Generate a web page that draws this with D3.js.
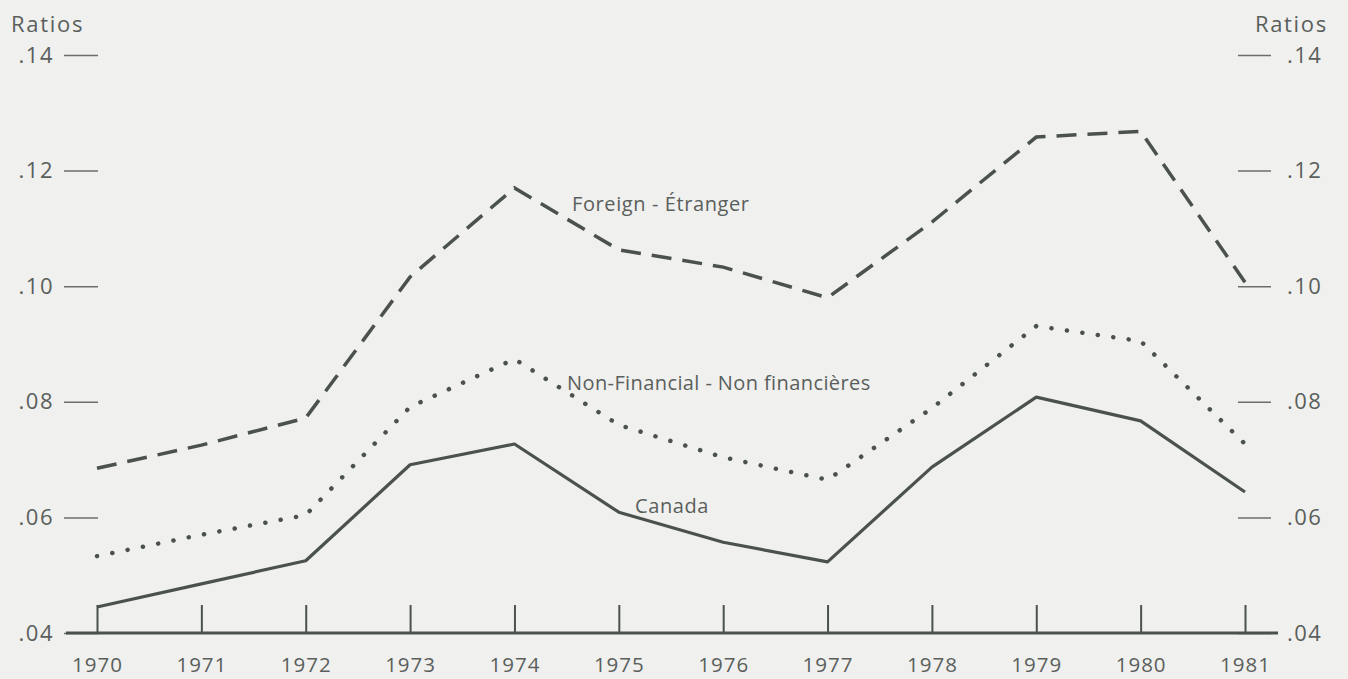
<!DOCTYPE html>
<html>
<head>
<meta charset="utf-8">
<script src="https://cdn.jsdelivr.net/npm/d3@7"></script>
<style>
  html, body { margin: 0; padding: 0; background: #f0f0ee; }
  svg { display: block; }
  text { font-family: "Open Sans", "DejaVu Sans", sans-serif; fill: #5a5f5c; }
</style>
</head>
<body>
<svg id="chart" width="1348" height="679"></svg>
<script>
// Years along the bottom
const years = [1970, 1971, 1972, 1973, 1974, 1975, 1976, 1977, 1978, 1979, 1980, 1981];

// Ratios
const foreign = [0.0685, 0.0725, 0.0772, 0.1016, 0.1170, 0.1063, 0.1033, 0.0980, 0.1111, 0.1258, 0.1268, 0.1007];
const nonFinancial = [0.0533, 0.0570, 0.0604, 0.0791, 0.0874, 0.0760, 0.0704, 0.0665, 0.0789, 0.0931, 0.0905, 0.0727];
const canada = [0.0445, 0.0485, 0.0525, 0.0691, 0.0727, 0.0609, 0.0557, 0.0523, 0.0687, 0.0808, 0.0767, 0.0644];

// Tick values on both side axes
const ratioTicks = [0.04, 0.06, 0.08, 0.10, 0.12, 0.14];

const ink = '#4b524e';
const textInk = '#5a5f5c';

const svg = d3.select('#chart');

const x = d3.scalePoint()
    .domain(years)
    .range([97, 1245]);

const y = d3.scaleLinear()
    .domain([0.04, 0.14])
    .range([633, 55]);

const fmt = d => d3.format('.2f')(d).replace(/^0/, '');

// Left axis: short ticks, no domain line
const left = svg.append('g')
    .attr('transform', 'translate(98,0)')
    .call(d3.axisLeft(y).tickValues(ratioTicks).tickSize(34).tickPadding(10).tickFormat(fmt));
left.select('.domain').remove();
left.selectAll('line').attr('stroke', '#6a6f6c').attr('stroke-width', 1.5);
left.selectAll('text').attr('font-size', 22).attr('letter-spacing', 1.5).style('fill', textInk);

// Right axis
const right = svg.append('g')
    .attr('transform', 'translate(1238,0)')
    .call(d3.axisRight(y).tickValues(ratioTicks).tickSize(33).tickPadding(16).tickFormat(fmt));
right.select('.domain').remove();
right.selectAll('line').attr('stroke', '#6a6f6c').attr('stroke-width', 1.5);
right.selectAll('text').attr('font-size', 22).attr('letter-spacing', 1.5).style('fill', textInk);

// "Ratios" titles
svg.append('text')
    .attr('x', 11)
    .attr('y', 32)
    .attr('font-size', 22)
    .attr('letter-spacing', 1.7)
    .text('Ratios');

svg.append('text')
    .attr('x', 1328)
    .attr('y', 32)
    .attr('text-anchor', 'end')
    .attr('font-size', 22)
    .attr('letter-spacing', 1.7)
    .text('Ratios');

// Bottom axis with upward ticks
const bottom = svg.append('g')
    .attr('transform', `translate(0,${y(0.04)})`)
    .call(d3.axisBottom(x).tickSize(-28).tickPadding(24).tickFormat(d3.format('d')));
bottom.select('.domain').remove();
bottom.selectAll('line').attr('stroke', ink).attr('stroke-width', 2);
bottom.selectAll('text').attr('font-size', 20.5).attr('letter-spacing', 1).style('fill', textInk);

svg.append('line')
    .attr('x1', 66)
    .attr('x2', 1278)
    .attr('y1', y(0.04))
    .attr('y2', y(0.04))
    .attr('stroke', ink)
    .attr('stroke-width', 3);

// Series lines
const line = d3.line()
    .x((d, i) => x(years[i]))
    .y(d => y(d));

svg.append('path')
    .datum(foreign)
    .attr('d', line)
    .attr('fill', 'none')
    .attr('stroke', ink)
    .attr('stroke-width', 3.5)
    .attr('stroke-dasharray', '20 11');

svg.append('path')
    .datum(nonFinancial)
    .attr('d', line)
    .attr('fill', 'none')
    .attr('stroke', ink)
    .attr('stroke-width', 4.5)
    .attr('stroke-linecap', 'round')
    .attr('stroke-dasharray', '0.1 15.5');

svg.append('path')
    .datum(canada)
    .attr('d', line)
    .attr('fill', 'none')
    .attr('stroke', ink)
    .attr('stroke-width', 3.2)
    .attr('stroke-linejoin', 'round');

// Series labels
svg.append('text')
    .attr('x', 572)
    .attr('y', 211)
    .attr('font-size', 20)
    .attr('letter-spacing', 0.6)
    .text('Foreign - Étranger');

svg.append('text')
    .attr('x', 567)
    .attr('y', 390)
    .attr('font-size', 20)
    .attr('letter-spacing', 0.4)
    .text('Non-Financial - Non financières');

svg.append('text')
    .attr('x', 635)
    .attr('y', 513)
    .attr('font-size', 20)
    .attr('letter-spacing', 0.6)
    .text('Canada');
</script>
</body>
</html>
